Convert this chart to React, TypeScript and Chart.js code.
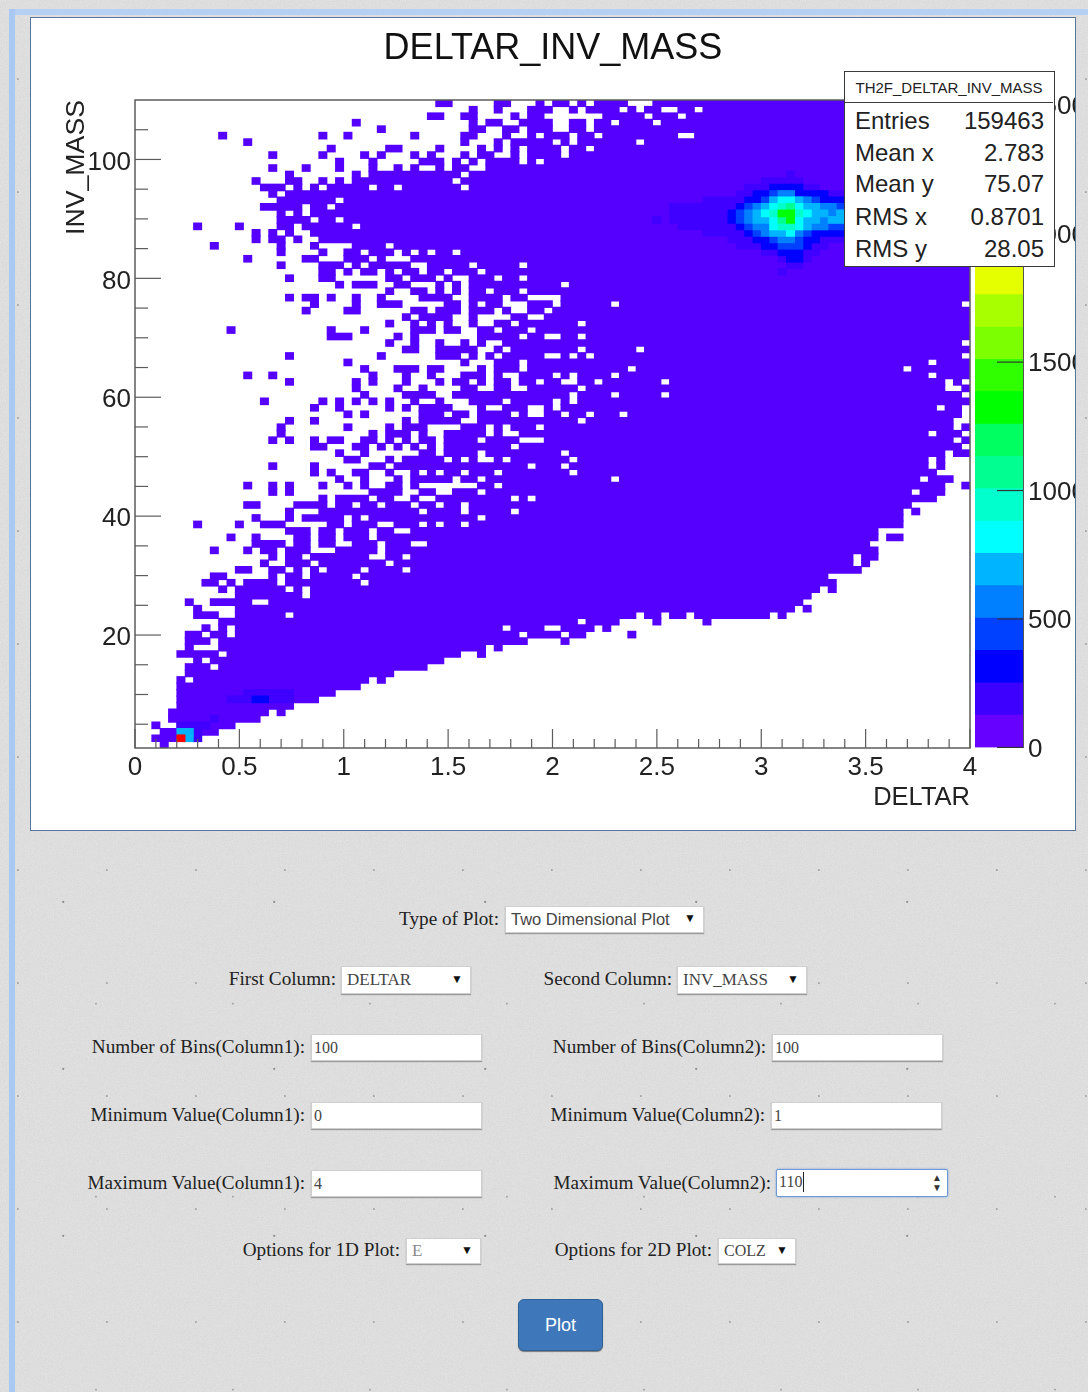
import React, { useEffect, useRef } from "react";
import { Chart, registerables } from "chart.js";

Chart.register(...registerables);

const X_MIN = 0;
const X_MAX = 4;
const Y_MIN = 1;
const Y_MAX = 110;
const X_BINS = 100;
const Y_BINS = 100;
const X_MAJOR = [0, 0.5, 1, 1.5, 2, 2.5, 3, 3.5, 4];
const X_MINOR = [0.1, 0.2, 0.3, 0.4, 0.6, 0.7, 0.8, 0.9, 1.1, 1.2, 1.3, 1.4, 1.6, 1.7, 1.8, 1.9, 2.1, 2.2, 2.3, 2.4, 2.6, 2.7, 2.8, 2.9, 3.1, 3.2, 3.3, 3.4, 3.6, 3.7, 3.8, 3.9];
const Y_MAJOR = [20, 40, 60, 80, 100];
const Y_MINOR = [5, 10, 15, 25, 30, 35, 45, 50, 55, 65, 70, 75, 85, 90, 95, 105];
const PALETTE_TICKS = [0, 500, 1000, 1500, 2000, 2500];
const PALETTE_MAX = 2518;
const PALETTE_STEP = 125.9;
const PALETTE_COLORS = ["#6600ff", "#3d00ff", "#0000ff", "#0040ff", "#0080ff", "#00b4ff", "#00ffff", "#00ffcc", "#00ff90", "#00ff60", "#00ff00", "#30ff00", "#7cff00", "#a8ff00", "#e6ff00", "#ffcc00", "#ff9900", "#ff6600", "#ff3300", "#ff0000"];
const BASE_COLOR = "#5500ff";

// Occupied bins of each row, top row first: "first-last" column index runs.
const FILLED_ROWS = [
  "36-37 43-44 48 50-51 53 55-58 62-99",
  "40 43 47-49 52 54-57 59 61-62 65-66 68-99",
  "35-36 39-40 45 47-48 56-60 62-64 66-99",
  "26 40 42-43 46-49 52-53 55-56 58-61 63-99",
  "29 40-41 44-45 47-49 52-53 55-99",
  "10 22 25 33 39-40 44 47 49-51 53-54 56-64 67-99",
  "13 39 43 45-49 51 53-59 61-99",
  "23 30-31 36 41 43 45 47-50 52-53 55-99",
  "16 22 27 29 33 35 39 41-42 45 47-50 52-99",
  "24 28 34-36 38 40 42-45 47 49-99",
  "16 20 24 28 31 33 36 38-39 42-99",
  "18 26 28-38 40-99",
  "14 18-19 22 24 26-37 39-99",
  "15-17 19 21 23-27 29-30 32-38 40-99",
  "16 18-99",
  "17-23 25-99",
  "15-19 21-22 24-99",
  "17 19 21-99",
  "17-20 22-23 25-99",
  "7 12 17-18 20-25 27-99",
  "14 16 18 21-99",
  "14 16-17 19 22-99",
  "9 17 21 26-29 31-99",
  "17 22 25-26 28-30 32 34 36-37 39-99",
  "13 20-21 25-27 29 33-99",
  "17 22-24 26 28-32 35-39 41-45 47-99",
  "22-23 25 27-28 30 32-33 35-36 38-40 42-99",
  "18 22-23 30-31 33-35 37 40-42 44-45 47-99",
  "24 26-28 31-32 36 38 40-50 52-99",
  "30 33-34 36 38 40-41 43-45 47-99",
  "18 20-21 23 26 29 34-37 40-43 45-46 51-99",
  "21 26 29-31 37-38 40 42-43 47-49 51-56 58-98",
  "20 25-26 33-34 36-38 40-42 44 47-48 50-99",
  "32 34-37 40 45-46 49-99",
  "30 33 35 37 40 43-44 46-52 54-99",
  "11 23 27 33-35 37-38 41-42 44-46 48-99",
  "23-25 31 33 41-43 44-45 47-48 51-52 54-99",
  "30 33 36 39 41 44-98",
  "32-33 36-40 43 45-52 54-59 61-99",
  "18 29 36-38 40 42 44-48 51 53 55-98",
  "25 39 43-45 47-94 96-99",
  "27 31-33 35-36 41 43-45 47-58 60-91 93-99",
  "13 16 28 32 35 39-41 43 46-49 51 53-56 58-94 96-99",
  "18 26 28 32 36 38-39 41 43-44 46-47 49-50 53-54 56-62 64-96 98",
  "26 31 34 39-40 43-44 47-52 54-96 99",
  "27 32-35 38-51 53-56 58-62 64-98",
  "15 22 24 26 28 30 33 36 40-43 45-49 51 53-99",
  "21 24 30 32 34-37 41 44-46 49 51-95 97-98",
  "25 27 34-36 38-39 41-44 46 49-50 52-53 55-57 59-98",
  "18 21 32 34-38 41-52 54-97",
  "17 25 30 32-34 39-41 43 45-47 49-97 99",
  "17 28 30-32 34 37-41 43 46-94 96-98",
  "16 18 21 23-24 27-28 30 32 34-35 37-40 42-45 49-97 99",
  "21-22 26-27 29 31 33 35 37-44 46-98",
  "24 27 34-35 37-40 42-50 52-96 98-99",
  "25-26 30 32-36 38 40 43 45-51 53-94 96",
  "16 21 28-29 31-46 48-50 52-94 96",
  "21 23 26-27 30 33 35 37-38 40-42 44-51 53-95",
  "24 27 31 33-37 39-40 42-56 58-93 95-97",
  "13 16 18 22 25 27 30-31 33 41-42 44-96 99",
  "16 18 28-31 34-35 38-40 42-92 94-96",
  "22 24-27 29-30 33 36-44 46 48-95",
  "13-14 19-22 24-25 27-28 30-32 34-35 37-38 40-92",
  "18 22-33 35-38 40-44 46-91 93",
  "14 18 20-24 26 28-40 42-91",
  "7 12 15-17 23-24 26-28 31-33 35 37-38 40-91",
  "18-20 22-23 25-27 29-30 33-88",
  "11 14 19-20 22-23 25-27 29-88 90-91",
  "14-17 19-20 22-23 26-28 30-32 35-87",
  "9 13 15-16 18-20 24-28 30-88",
  "16 18-19 21-27 30-31 33-85 87-88",
  "15 18-20 22-29 31-85 87",
  "12-13 16-17 19 21 23-26 28-31 33-86",
  "9-10 16 18-19 21-25 27-82",
  "8-9 11 13-16 18-26 28-83",
  "10 12-17 19 21-81 83",
  "12-19 21-80",
  "6 9-13 16-79",
  "7 12-78 80",
  "7-9 12-17 19-59 61-62 64-65 67-75 77",
  "10-52 54-57 62 68",
  "8 10 12-43 45-48 51-54 56",
  "6-7 9-10 12-45 47-50 52-53 59",
  "6-8 10-46 51",
  "6 10-41 43",
  "5-9 11-38 41",
  "7 9-36",
  "6-8 10-34",
  "6-30",
  "5 7-27 29",
  "5-26",
  "5-23",
  "5-21",
  "5-18",
  "4-15 17",
  "4-14",
  "2 5-11",
  "3-9",
  "2-7",
  "3",
];

// Bins above the lowest colour band: [row from the top, column runs].
const LEVEL_1: [number, string][] = [[11, "78"], [12, "75-79"], [13, "73-81"], [14, "72-84"], [15, "68-84"], [16, "64-84"], [17, "64-84"], [18, "62 64-84"], [19, "65-84"], [20, "68-84"], [21, "71-84"], [22, "72-82"], [23, "75-81"], [24, "77-80"], [25, "78-79"], [26, "77"], [91, "13-18"], [92, "11-18"], [95, "9"], [96, "5-8"], [97, "7"], [98, "7"]];
const LEVEL_2: [number, string][] = [[13, "76-79"], [14, "74-82"], [15, "73-84"], [16, "72-84"], [17, "71-84"], [18, "71-84"], [19, "72-84"], [20, "73-84"], [21, "74-81"], [22, "75-80"], [23, "77-79"], [24, "78-79"], [92, "14-15"]];
const LEVEL_3: [number, string][] = [[14, "76-77"], [15, "75-81"], [16, "73-84"], [17, "72-84"], [18, "72-84"], [19, "73-84"], [20, "74-80"], [21, "76-79"], [22, "77-79"]];
const LEVEL_4: [number, string][] = [[14, "77-78"], [15, "76-80"], [16, "74-83"], [17, "73-84"], [18, "73-84"], [19, "74-82"], [20, "75-79"], [21, "77-78"]];
const LEVEL_5: [number, string][] = [[15, "76-79"], [16, "75-81"], [17, "74-82 84"], [18, "74-81 83-84"], [19, "76-80"], [20, "76-78"], [97, "5-6"], [98, "6"]];
const LEVEL_6: [number, string][] = [[15, "77-78"], [16, "76-79"], [17, "75-80"], [18, "76-79"], [19, "76-79"], [20, "78"]];
const LEVEL_7: [number, string][] = [[16, "77-78"], [17, "76-79"], [18, "77-78"], [19, "77-78"]];
const LEVEL_8: [number, string][] = [[16, "78"], [18, "77"]];
const LEVEL_10: [number, string][] = [[17, "77-78"], [18, "78"]];
const LEVEL_19: [number, string][] = [[98, "5"]];

const STATS_NAME = "TH2F_DELTAR_INV_MASS";
const STATS_LABELS = ["Entries", "Mean x", "Mean y", "RMS x", "RMS y"];
const STATS_VALUES = ["159463", "2.783", "75.07", "0.8701", "28.05"];
const STATS_TOPS = [104, 136, 167, 200, 232];

const SANS = "'Liberation Sans', Arial, sans-serif";
const SERIF = "'Liberation Serif', 'Times New Roman', serif";

const PAPER_NOISE =
  "url(\"data:image/svg+xml,%3Csvg xmlns='http://www.w3.org/2000/svg' width='400' height='400'%3E%3Cfilter id='n'%3E%3CfeTurbulence type='fractalNoise' baseFrequency='0.75' numOctaves='3' stitchTiles='stitch'/%3E%3CfeColorMatrix values='0 0 0 0 0.4 0 0 0 0 0.4 0 0 0 0 0.4 0 0 0 0.32 -0.08'/%3E%3C/filter%3E%3Crect width='400' height='400' filter='url(%23n)'/%3E%3C/svg%3E\")";

function parseRuns(text: string): number[][] {
  return text
    .split(" ")
    .filter(Boolean)
    .map((part) => {
      const [a, b] = part.split("-").map(Number);
      return [a, b === undefined ? a : b];
    });
}

function binDatasets(rows: [number, string][], color: string) {
  const xStep = (X_MAX - X_MIN) / X_BINS;
  const yStep = (Y_MAX - Y_MIN) / Y_BINS;
  const perRun: any[][] = [];
  rows.forEach(([row, text]) => {
    parseRuns(text).forEach((run, k) => {
      (perRun[k] = perRun[k] || []).push({
        x: [X_MIN + run[0] * xStep, X_MIN + (run[1] + 1) * xStep],
        y: Y_MAX - (row + 0.5) * yStep,
      });
    });
  });
  return perRun.map((data) => ({
    data,
    backgroundColor: color,
    borderWidth: 0,
    grouped: false,
    barThickness: 7,
    yAxisID: "y",
  }));
}

const axisMarks = {
  id: "axisMarks",
  afterDatasetsDraw(chart: any) {
    const { ctx, chartArea: a, scales } = chart;
    ctx.save();
    ctx.strokeStyle = "#5c5c5c";
    ctx.lineWidth = 1.5;
    ctx.strokeRect(a.left, a.top, a.right - a.left, a.bottom - a.top);
    const line = (x1: number, y1: number, x2: number, y2: number) => {
      ctx.beginPath();
      ctx.moveTo(x1, y1);
      ctx.lineTo(x2, y2);
      ctx.stroke();
    };
    ctx.lineWidth = 1.2;
    X_MAJOR.forEach((v) => {
      const x = scales.x.getPixelForValue(v);
      line(x, a.bottom, x, a.bottom - 19);
    });
    X_MINOR.forEach((v) => {
      const x = scales.x.getPixelForValue(v);
      line(x, a.bottom, x, a.bottom - 9);
    });
    Y_MAJOR.forEach((v) => {
      const y = scales.y.getPixelForValue(v);
      line(a.left, y, a.left + 26, y);
    });
    Y_MINOR.forEach((v) => {
      const y = scales.y.getPixelForValue(v);
      line(a.left, y, a.left + 13, y);
    });
    ctx.restore();
  },
};

const paletteMarks = {
  id: "paletteMarks",
  afterDatasetsDraw(chart: any) {
    const { ctx, chartArea: a, scales } = chart;
    ctx.save();
    ctx.strokeStyle = "#333333";
    ctx.lineWidth = 1.2;
    PALETTE_TICKS.forEach((v) => {
      const y = scales.y.getPixelForValue(v);
      ctx.beginPath();
      ctx.moveTo(a.right, y);
      ctx.lineTo(a.right - 26, y);
      ctx.stroke();
    });
    ctx.restore();
  },
};

function Heatmap() {
  const ref = useRef<HTMLCanvasElement>(null);
  useEffect(() => {
    const rows = FILLED_ROWS.map((text, i) => [i, text] as [number, string]);
    const datasets = [
      ...binDatasets(LEVEL_19, PALETTE_COLORS[19]),
      ...binDatasets(LEVEL_10, PALETTE_COLORS[10]),
      ...binDatasets(LEVEL_8, PALETTE_COLORS[8]),
      ...binDatasets(LEVEL_7, PALETTE_COLORS[7]),
      ...binDatasets(LEVEL_6, PALETTE_COLORS[6]),
      ...binDatasets(LEVEL_5, PALETTE_COLORS[5]),
      ...binDatasets(LEVEL_4, PALETTE_COLORS[4]),
      ...binDatasets(LEVEL_3, PALETTE_COLORS[3]),
      ...binDatasets(LEVEL_2, PALETTE_COLORS[2]),
      ...binDatasets(LEVEL_1, "#4000ff"),
      ...binDatasets(rows, BASE_COLOR),
    ];
    const chart = new Chart(ref.current as any, {
      type: "bar",
      data: { datasets } as any,
      plugins: [axisMarks],
      options: {
        animation: false,
        responsive: false,
        indexAxis: "y",
        devicePixelRatio: 1,
        layout: { padding: 0 },
        plugins: {
          legend: { display: false },
          tooltip: { enabled: false },
          title: {
            display: true,
            text: "DELTAR_INV_MASS",
            color: "#111111",
            font: { family: SANS, size: 36, weight: "normal" },
            padding: { top: 9.4, bottom: 29.4 },
          },
        },
        scales: {
          x: {
            type: "linear",
            min: X_MIN,
            max: X_MAX,
            grid: { display: false, drawTicks: false },
            border: { display: false },
            afterFit: (s: any) => {
              s.height = 82;
            },
            afterBuildTicks: (s: any) => {
              s.ticks = X_MAJOR.map((value) => ({ value }));
            },
            ticks: {
              color: "#222222",
              padding: 4,
              maxRotation: 0,
              autoSkip: false,
              font: { family: SANS, size: 26 },
              callback: (v: any) => String(v),
            },
            title: {
              display: true,
              text: "DELTAR",
              align: "end",
              color: "#222222",
              font: { family: SANS, size: 25.5 },
              padding: { top: 0, bottom: 17 },
            },
          },
          y: {
            type: "linear",
            min: Y_MIN,
            max: Y_MAX,
            offset: false,
            grid: { display: false, offset: false, drawTicks: false },
            border: { display: false },
            afterFit: (s: any) => {
              s.width = 104;
            },
            afterBuildTicks: (s: any) => {
              s.ticks = Y_MAJOR.map((value) => ({ value }));
            },
            ticks: {
              color: "#222222",
              padding: 4,
              labelOffset: 3,
              font: { family: SANS, size: 26 },
              callback: (v: any) => String(v),
            },
            title: {
              display: true,
              text: "INV_MASS",
              align: "end",
              color: "#222222",
              font: { family: SANS, size: 26.7 },
              padding: { top: 30, bottom: 0 },
            },
          },
          yRight: {
            axis: "y",
            type: "linear",
            position: "right",
            grid: { display: false, drawTicks: false },
            border: { display: false },
            ticks: { display: false },
            afterFit: (s: any) => {
              s.width = 105;
            },
          },
        },
      } as any,
    });
    return () => chart.destroy();
  }, []);
  return <canvas ref={ref} width={1044} height={812} style={{ display: "block" }} />;
}

function Palette() {
  const ref = useRef<HTMLCanvasElement>(null);
  useEffect(() => {
    const chart = new Chart(ref.current as any, {
      type: "bar",
      data: {
        labels: ["z"],
        datasets: PALETTE_COLORS.map((color) => ({
          data: [PALETTE_STEP],
          backgroundColor: color,
          borderWidth: 0,
          barPercentage: 1,
          categoryPercentage: 1,
        })),
      },
      plugins: [paletteMarks],
      options: {
        animation: false,
        responsive: false,
        devicePixelRatio: 1,
        layout: { padding: { top: 20, bottom: 20, left: 0, right: 0 } },
        plugins: { legend: { display: false }, tooltip: { enabled: false } },
        scales: {
          x: { display: false, stacked: true },
          y: {
            position: "right",
            stacked: true,
            min: 0,
            max: PALETTE_MAX,
            grid: { display: false, drawTicks: false },
            border: { display: true, color: "#555555", width: 1 },
            afterFit: (s: any) => {
              s.width = 52;
            },
            afterBuildTicks: (s: any) => {
              s.ticks = PALETTE_TICKS.map((value) => ({ value }));
            },
            ticks: {
              color: "#222222",
              padding: 5,
              labelOffset: 2,
              font: { family: SANS, size: 26 },
              callback: (v: any) => String(v),
            },
          },
        },
      } as any,
    });
    return () => chart.destroy();
  }, []);
  return <canvas ref={ref} width={100} height={688} style={{ display: "block" }} />;
}

const abs = (left: number, top: number, width: number, height: number): React.CSSProperties => ({
  position: "absolute",
  left,
  top,
  width,
  height,
  boxSizing: "border-box",
});

function Label({ right, y, text }: { right: number; y: number; text: string }) {
  return (
    <div
      style={{
        position: "absolute",
        right: 1088 - right,
        top: y - 13,
        height: 26,
        font: `19.2px/26px ${SERIF}`,
        color: "#222",
        whiteSpace: "nowrap",
      }}
    >
      {text}
    </div>
  );
}

const fieldStyle: React.CSSProperties = {
  background: "#fff",
  border: "1px solid #cfcfcf",
  boxShadow: "0 1px 1px #9a9a9a",
  color: "#444",
  whiteSpace: "nowrap",
  overflow: "hidden",
};

function SelectBox({ left, top, width, text, font = SERIF, size = 17, color = "#444", height = 27 }: any) {
  return (
    <div style={{ ...abs(left, top, width, height), ...fieldStyle }}>
      <span style={{ position: "absolute", left: 5, top: 0, font: `${size}px/${height - 2}px ${font}`, color }}>{text}</span>
      <span style={{ position: "absolute", right: 7, top: 0, font: `12px/${height - 4}px ${SANS}`, color: "#111" }}>▼</span>
    </div>
  );
}

function InputBox({ left, top, width, text }: any) {
  return (
    <div style={{ ...abs(left, top, width, 27), ...fieldStyle }}>
      <span style={{ position: "absolute", left: 2, top: 0, font: `16px/26px ${SERIF}`, color: "#444" }}>{text}</span>
    </div>
  );
}

export default function App() {
  return (
    <div
      style={{
        position: "absolute",
        left: 0,
        top: 0,
        width: 1088,
        height: 1392,
        overflow: "hidden",
        backgroundColor: "#e2e2e2",
        backgroundImage:
          "radial-gradient(circle at 30% 40%, rgba(70,70,70,.5) 0, rgba(70,70,70,.5) .8px, transparent 1.4px)," +
          "radial-gradient(circle at 70% 20%, rgba(90,90,90,.4) 0, rgba(90,90,90,.4) .7px, transparent 1.3px)," +
          "radial-gradient(circle at 20% 70%, rgba(90,90,90,.4) 0, rgba(90,90,90,.4) .7px, transparent 1.3px)," +
          PAPER_NOISE,
        backgroundSize: "211px 167px, 137px 193px, 89px 113px, 400px 400px",
      }}
    >
      <style>{"html,body{margin:0;padding:0;background:#dadada}"}</style>

      <div style={{ ...abs(9, 9, 1079, 6), background: "#b5d0f2" }} />
      <div style={{ ...abs(9, 9, 6, 1383), background: "#a9c9f2" }} />

      <div style={{ ...abs(30, 17, 1046, 814), background: "#fff", border: "1px solid #56769c" }} />
      <div style={{ position: "absolute", left: 31, top: 18 }}>
        <Heatmap />
      </div>
      <div style={{ position: "absolute", left: 975, top: 80 }}>
        <Palette />
      </div>

      <div style={{ ...abs(844, 71, 211, 196), background: "#fff", border: "1.5px solid #3a3a3a", fontFamily: SANS, color: "#222" }}>
        <div style={{ ...abs(0, 0, 208, 31), borderBottom: "1.5px solid #3a3a3a", textAlign: "center", font: `15px/31px ${SANS}` }}>{STATS_NAME}</div>
        {STATS_LABELS.map((label, i) => (
          <React.Fragment key={label}>
            <div style={{ position: "absolute", left: 10, top: STATS_TOPS[i] - 71 - 1, font: `24px/34px ${SANS}`, height: 34 }}>{label}</div>
            <div style={{ position: "absolute", right: 10, top: STATS_TOPS[i] - 71 - 1, font: `24px/34px ${SANS}`, height: 34 }}>{STATS_VALUES[i]}</div>
          </React.Fragment>
        ))}
      </div>

      <Label right={499} y={919} text="Type of Plot:" />
      <SelectBox left={505} top={906} width={199} text="Two Dimensional Plot" font={SANS} size={16.5} />
      <Label right={336} y={979} text="First Column:" />
      <SelectBox left={341} top={966} width={130} height={28} text="DELTAR" />
      <Label right={672} y={979} text="Second Column:" />
      <SelectBox left={677} top={966} width={130} height={28} text="INV_MASS" />

      <Label right={305} y={1047} text="Number of Bins(Column1):" />
      <InputBox left={311} top={1034} width={171} text="100" />
      <Label right={766} y={1047} text="Number of Bins(Column2):" />
      <InputBox left={772} top={1034} width={171} text="100" />

      <Label right={305} y={1115} text="Minimum Value(Column1):" />
      <InputBox left={311} top={1102} width={171} text="0" />
      <Label right={765} y={1115} text="Minimum Value(Column2):" />
      <InputBox left={771} top={1102} width={171} text="1" />

      <Label right={305} y={1183} text="Maximum Value(Column1):" />
      <InputBox left={311} top={1170} width={171} text="4" />
      <Label right={771} y={1183} text="Maximum Value(Column2):" />
      <div style={{ ...abs(776, 1169, 172, 28), background: "#fff", border: "1.5px solid #6d9ad6", boxShadow: "0 0 2px #6d9ad6", borderRadius: 2 }}>
        <span style={{ position: "absolute", left: 2, top: 2, height: 20, font: `16px/20px ${SERIF}`, color: "#444", borderRight: "1.5px solid #222", paddingRight: 1 }}>110</span>
        <span style={{ position: "absolute", right: 5, top: 3, font: `10px/10px ${SANS}`, color: "#333", textAlign: "center" }}>
          ▲
          <br />▼
        </span>
      </div>

      <Label right={400} y={1250} text="Options for 1D Plot:" />
      <SelectBox left={406} top={1238} width={75} height={26} text="E" color="#888" />
      <Label right={712} y={1250} text="Options for 2D Plot:" />
      <SelectBox left={718} top={1238} width={78} height={26} text="COLZ" size={16} />

      <div
        style={{
          ...abs(518, 1299, 85, 52),
          background: "#3f78ba",
          border: "1px solid #2f6197",
          borderRadius: 6,
          color: "#fff",
          textAlign: "center",
          font: `18px/50px ${SANS}`,
          boxShadow: "0 1px 1px #777",
        }}
      >
        Plot
      </div>
    </div>
  );
}
